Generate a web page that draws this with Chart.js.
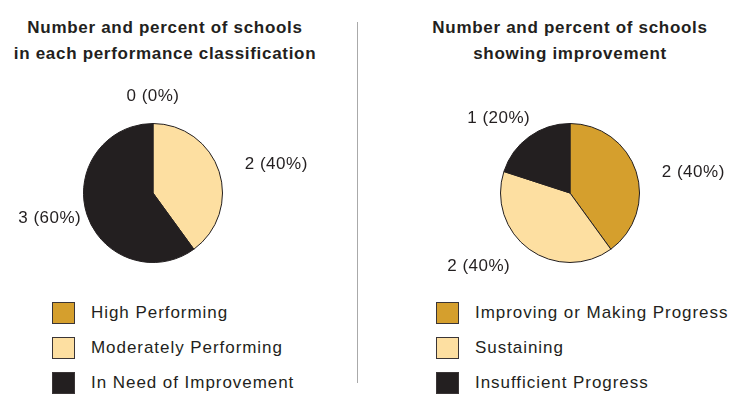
<!DOCTYPE html>
<html>
<head>
<meta charset="utf-8">
<script src="https://cdn.jsdelivr.net/npm/chart.js@4.4.1/dist/chart.umd.min.js"></script>
<style>
    body { margin: 0; background: #fff; font-family: "Liberation Sans", Arial, sans-serif; color: #231f20; }
    #wrap { position: relative; width: 738px; height: 404px; overflow: hidden; }
    canvas { position: absolute; top: 0; }
    .title { position: absolute; top: 15px; text-align: center; font-weight: bold; font-size: 17px; line-height: 26px; letter-spacing: 0.7px; }
    .divider { position: absolute; left: 357px; top: 22px; width: 1px; height: 361px; background: #aaaaaa; }
    .legend { position: absolute; top: 302px; }
    .legend .row { position: relative; height: 35px; }
    .legend .box { position: absolute; left: 0; top: 0; width: 21px; height: 20px; border: 1px solid #3a3536; }
    .legend .txt { position: absolute; left: 39px; top: 0px; font-size: 17px; line-height: 22px; letter-spacing: 0.95px; white-space: nowrap; }
</style>
</head>
<body>
<div id="wrap">
    <div class="title" style="left:0;width:330px">Number and percent of schools<br>in each performance classification</div>
    <div class="title" style="left:420px;width:300px">Number and percent of schools<br>showing improvement</div>
    <div class="divider"></div>
    <canvas id="perfChart" width="357" height="290" style="left:0"></canvas>
    <canvas id="impChart" width="369" height="290" style="left:369px"></canvas>
    <div class="legend" id="perfLegend" style="left:52px"></div>
    <div class="legend" id="impLegend" style="left:436px"></div>
</div>
<script>
    const perfLabels = ["High Performing", "Moderately Performing", "In Need of Improvement"];
    const perfValues = [0, 2, 3];

    const impLabels = ["Improving or Making Progress", "Sustaining", "Insufficient Progress"];
    const impValues = [2, 2, 1];

    const sliceColors = ["#d59f2d", "#fddfa1", "#231f20"];
    const edgeColor = "#231f20";

    // draws "n (p%)" outside each slice
    const outsideLabels = {
        id: "outsideLabels",
        afterDatasetsDraw(chart, args, opts) {
            const ctx = chart.ctx;
            const ds = chart.data.datasets[0];
            const total = ds.data.reduce((a, b) => a + b, 0);
            const meta = chart.getDatasetMeta(0);
            ctx.save();
            ctx.font = "17px 'Liberation Sans', Arial, sans-serif";
            ctx.letterSpacing = "0.5px";
            ctx.fillStyle = "#231f20";
            ctx.textBaseline = "middle";
            meta.data.forEach((arc, i) => {
                const p = arc.getProps(["x", "y", "startAngle", "endAngle", "outerRadius"], true);
                const mid = (p.startAngle + p.endAngle) / 2;
                const cx = Math.cos(mid), cy = Math.sin(mid);
                const r = p.outerRadius + opts.distance;
                const nudge = (opts.nudge && opts.nudge[i]) || [0, 0];
                const x = p.x + cx * r + nudge[0];
                const y = p.y + cy * r + nudge[1];
                ctx.textAlign = Math.abs(cx) < 0.3 ? "center" : (cx > 0 ? "left" : "right");
                const v = ds.data[i];
                ctx.fillText(`${v} (${Math.round(v / total * 100)}%)`, x, y);
            });
            ctx.restore();
        }
    };

    function buildPie(id, labels, values, padding, nudge) {
        return new Chart(document.getElementById(id), {
            type: "pie",
            data: {
                labels,
                datasets: [{
                    data: values,
                    backgroundColor: sliceColors,
                    borderColor: edgeColor,
                    borderWidth: 1
                }]
            },
            options: {
                responsive: false,
                animation: false,
                layout: { padding },
                plugins: {
                    legend: { display: false },
                    tooltip: { enabled: false },
                    outsideLabels: { distance: 27, nudge }
                }
            },
            plugins: [outsideLabels]
        });
    }

    function buildLegend(id, labels) {
        const el = document.getElementById(id);
        labels.forEach((lab, i) => {
            const row = document.createElement("div");
            row.className = "row";
            row.innerHTML = `<div class="box" style="background:${sliceColors[i]}"></div><div class="txt">${lab}</div>`;
            el.appendChild(row);
        });
    }

    buildPie("perfChart", perfLabels, perfValues,
        { left: 83, right: 134, top: 123, bottom: 27 },
        [[0, 0], [0, 1], [20, -5]]);
    buildPie("impChart", impLabels, impValues,
        { left: 131, right: 98, top: 123, bottom: 27 },
        [[0, 9], [-3, -5], [17, 3]]);

    buildLegend("perfLegend", perfLabels);
    buildLegend("impLegend", impLabels);
</script>
</body>
</html>
